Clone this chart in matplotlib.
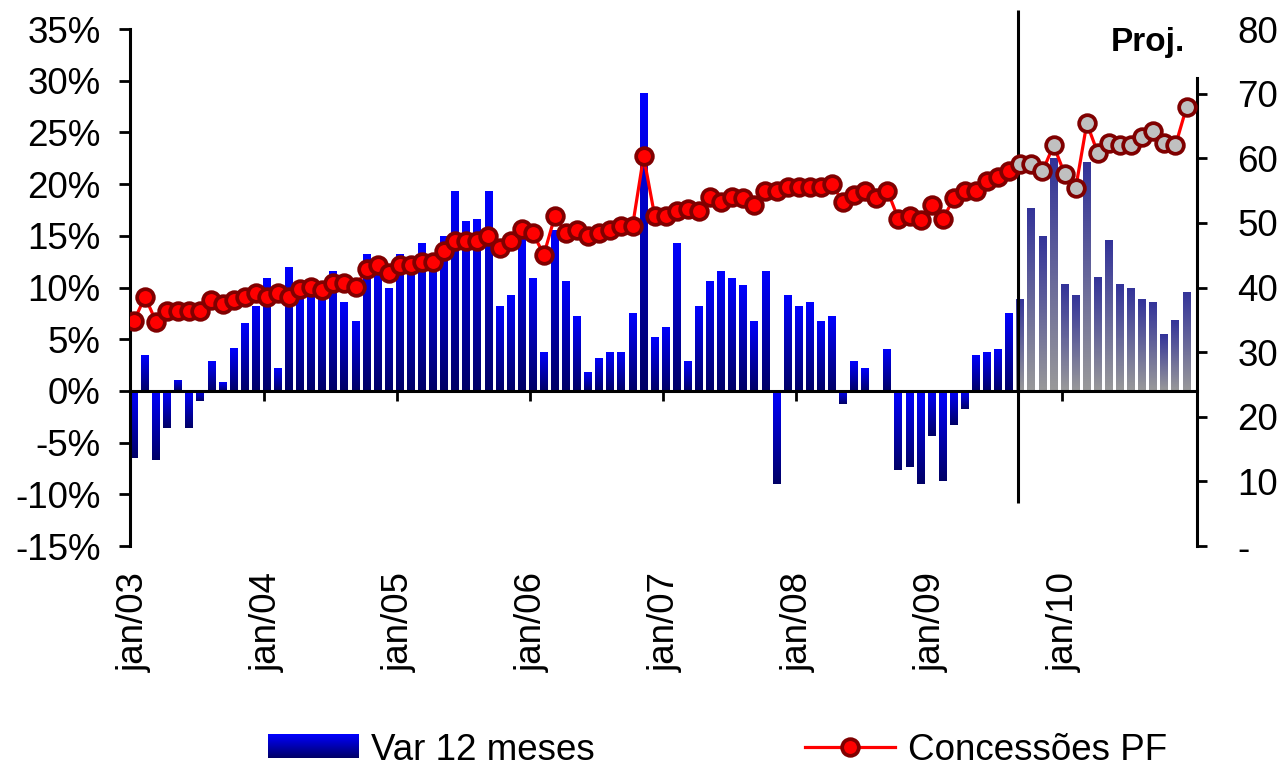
import numpy as np
import matplotlib
matplotlib.use("Agg")
import matplotlib.pyplot as plt
from matplotlib.colors import LinearSegmentedColormap
from matplotlib.lines import Line2D
from matplotlib.patches import Patch
from matplotlib.legend_handler import HandlerBase
from matplotlib.image import BboxImage
from matplotlib.transforms import Bbox, TransformedBbox, blended_transform_factory

plt.rcParams['font.family'] = ['Liberation Sans', 'DejaVu Sans']
plt.rcParams['axes.unicode_minus'] = False

###########################
####    Data section   ####
###########################
# monthly, jan/03 .. dez/10 ; from sep/09 on it is projection
var12 = [-6.5, 3.45, -6.7, -3.6, 1.1, -3.6, -1.0, 2.9, 0.85, 4.15, 6.55, 8.2,
         10.9, 2.2, 12.0, 9.0, 9.4, 9.0, 11.6, 8.6, 6.8, 13.2, 12.0, 10.0,
         13.2, 12.5, 14.3, 13.0, 15.0, 19.3, 16.4, 16.6, 19.3, 8.2, 9.3, 14.8,
         10.9, 3.8, 15.6, 10.6, 7.2, 1.8, 3.2, 3.8, 3.8, 7.5, 28.8, 5.2,
         6.2, 14.3, 2.9, 8.2, 10.6, 11.6, 10.9, 10.2, 6.8, 11.6, -9.0, 9.3,
         8.2, 8.6, 6.8, 7.2, -1.3, 2.9, 2.2, 0.0, 4.1, -7.6, -7.4, -9.0,
         -4.4, -8.7, -3.3, -1.7, 3.45, 3.8, 4.1, 7.5, 8.9, 17.7, 15.0, 22.5,
         10.3, 9.3, 22.1, 11.0, 14.6, 10.3, 10.0, 8.9, 8.6, 5.5, 6.9, 9.6]

concessoes = [34.8, 38.6, 34.7, 36.4, 36.4, 36.4, 36.4, 38.1, 37.4, 38.0, 38.6, 39.1,
              38.5, 39.1, 38.5, 39.7, 40.1, 39.6, 40.7, 40.7, 40.1, 42.9, 43.5, 42.3,
              43.5, 43.5, 44.0, 44.0, 45.6, 47.2, 47.2, 47.2, 47.9, 46.1, 47.2, 49.0,
              48.4, 45.1, 51.1, 48.4, 48.9, 47.9, 48.4, 48.9, 49.5, 49.5, 60.3, 51.1,
              51.1, 51.8, 52.2, 51.9, 54.0, 53.3, 54.0, 53.8, 52.7, 55.0, 55.0, 55.5,
              55.5, 55.5, 55.5, 56.0, 53.2, 54.3, 55.0, 53.8, 55.0, 50.6, 51.1, 50.5,
              52.8, 50.6, 53.8, 55.0, 55.0, 56.5, 57.1, 58.1, 59.1, 59.1, 58.0, 62.0,
              57.6, 55.4, 65.4, 60.8, 62.4, 62.0, 62.0, 63.3, 64.2, 62.4, 62.0, 67.9]

year_labels = ['jan/03', 'jan/04', 'jan/05', 'jan/06', 'jan/07', 'jan/08', 'jan/09', 'jan/10']
proj_start = 80   # sep/09

months = np.arange(len(var12))
var12 = np.array(var12)
concessoes = np.array(concessoes)

blue_cmap = LinearSegmentedColormap.from_list('blu', ['#000066', '#0000FF'])
grey_cmap = LinearSegmentedColormap.from_list('gry', ['#999999', '#333399'])
grad = np.linspace(0, 1, 128).reshape(-1, 1)


class GradHandler(HandlerBase):
    def __init__(self, cmap):
        super().__init__()
        self.cmap = cmap

    def create_artists(self, legend, orig_handle, xdescent, ydescent, width, height, fontsize, trans):
        bb = TransformedBbox(Bbox.from_bounds(-xdescent, -ydescent, width, height), trans)
        img = BboxImage(bb, cmap=self.cmap, origin='lower', interpolation='bilinear')
        img.set_data(grad)
        return [img]


#########################
####    Plot section ####
#########################
fig = plt.figure(figsize=(12.84, 7.67), dpi=100)
ax = fig.add_axes([0.1012, 0.2881, 0.831, 0.674])
ax2 = ax.twinx()

bars = ax.bar(months, var12, width=0.72, color='none', edgecolor='none')
for i, b in enumerate(bars):
    h = b.get_height()
    if h == 0:
        continue
    x0 = b.get_x()
    y0, y1 = min(0, h), max(0, h)
    cm = grey_cmap if i >= proj_start else blue_cmap
    im = ax.imshow(grad, cmap=cm, origin='lower', aspect='auto', interpolation='bilinear',
                   extent=(x0, x0 + b.get_width(), y0, y1), zorder=2)
    im.set_clip_path(b)

ax.vlines(proj_start - 0.2, -10.8, 36.8, colors='black', lw=2.2, clip_on=False, zorder=3)

ax.set_xlim(-0.36, 95.94)
ax.set_ylim(-15, 35)
ax.set_yticks(np.arange(-15, 36, 5))
ax.set_yticklabels([f'{v}%' for v in range(-15, 36, 5)])
ax.tick_params(axis='y', direction='out', length=8, width=2, pad=13, labelsize=26.5)

ax.spines['top'].set_visible(False)
ax.spines['right'].set_visible(False)
ax.spines['left'].set_linewidth(2.2)
ax.spines['bottom'].set_position(('data', 0))
ax.spines['bottom'].set_linewidth(2.2)
ax.spines['bottom'].set_zorder(4)
ax.set_xticks(np.arange(12, 96, 12) - 0.25)
ax.set_xticklabels([])
ax.tick_params(axis='x', direction='out', length=7, width=2)

tr = blended_transform_factory(ax.transData, ax.transAxes)
for k, lab in enumerate(year_labels):
    ax.text(12 * k, -0.05, lab, transform=tr, rotation=90, ha='center', va='top', fontsize=26.5)

# concessoes line (right axis)
mk = dict(marker='o', ms=12, mec='#800000', mew=2.7, ls='none', zorder=4)
ax2.plot(months, concessoes, color='#FF0000', lw=2.3, zorder=3)
ax2.plot(months[:proj_start], concessoes[:proj_start], mfc='#FF0000', **mk)
ax2.plot(months[proj_start:], concessoes[proj_start:], mfc='#C0C0C0', **mk)

ax2.set_ylim(0, 80)
ax2.set_yticks(np.arange(0, 81, 10))
ax2.set_yticklabels(['-'] + [str(v) for v in range(10, 81, 10)])
ax2.tick_params(axis='y', direction='out', length=7, width=2, pad=22, labelsize=26.5)
for s in ['top', 'left', 'bottom']:
    ax2.spines[s].set_visible(False)
ax2.spines['right'].set_linewidth(2.2)
ax2.spines['right'].set_bounds(0, 72.5)
ax2.yaxis.get_major_ticks()[-1].tick2line.set_visible(False)

ax.text(94.9, 33.7, 'Proj.', ha='right', va='center', fontsize=24, fontweight='bold')

handles = [Patch(facecolor='#0000CC'),
           Line2D([], [], color='#FF0000', lw=2.3, marker='o', ms=12, mfc='#FF0000', mec='#800000', mew=2.7)]
fig.legend(handles, ['Var 12 meses', 'Concessões PF'], loc='center', bbox_to_anchor=(0.559, 0.022),
           ncol=2, frameon=False, fontsize=26.5, handlelength=2.45, handleheight=0.6,
           handletextpad=0.35, columnspacing=5.7, handler_map={Patch: GradHandler(blue_cmap)})

plt.savefig('out.png', dpi=100)
